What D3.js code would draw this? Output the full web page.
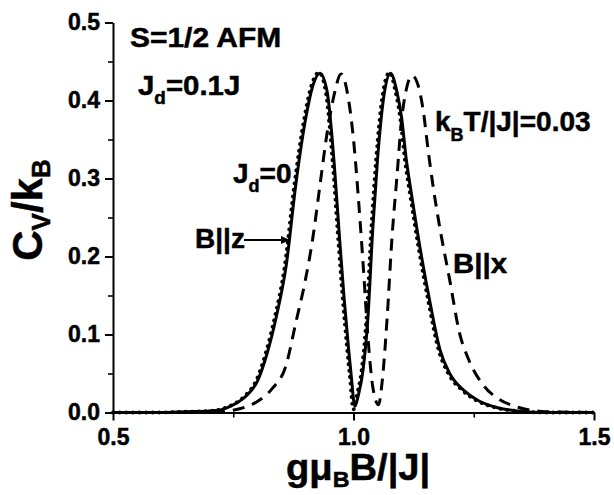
<!DOCTYPE html>
<html>
<head>
<meta charset="utf-8">
<script src="https://cdn.jsdelivr.net/npm/d3@7"></script>
<style>
  html, body { margin: 0; padding: 0; background: #fff; }
  svg { display: block; }
  text { font-family: "Liberation Sans", Arial, sans-serif; font-weight: bold; fill: #000; stroke: #000; stroke-width: 0.5px; }
</style>
</head>
<body>
<svg id="chart" width="614" height="495"></svg>
<script>
// ---- data ----
const xTicks = [0.5, 1.0, 1.5];
const xMinorTicks = [0.75, 1.25];
const yTicks = [0.0, 0.1, 0.2, 0.3, 0.4, 0.5];
const yMinorTicks = [0.05, 0.15, 0.25, 0.35, 0.45];

// Jd = 0.1J, B || z (solid)
const solidX = [0.50,0.60,0.65,0.70,0.72,0.74,0.76,0.78,0.80,0.82,0.84,0.86,0.88,0.90,0.915,0.93,0.945,0.96,0.97,0.98,0.99,0.995,1.003,1.01,1.02,1.03,1.04,1.05,1.063,1.077,1.09,1.10,1.11,1.12,1.14,1.16,1.18,1.20,1.23,1.26,1.30,1.34,1.40,1.50];
const solidY = [0,0.000,0.001,0.002,0.003,0.007,0.013,0.023,0.040,0.075,0.124,0.188,0.292,0.375,0.418,0.435,0.412,0.318,0.232,0.150,0.080,0.049,0.008,0.022,0.055,0.122,0.235,0.325,0.405,0.435,0.412,0.378,0.323,0.282,0.205,0.138,0.080,0.050,0.028,0.015,0.006,0.002,0.000,0];

// Jd = 0 (dotted)
const dotX = [0.50,0.60,0.65,0.70,0.717,0.737,0.757,0.777,0.797,0.817,0.837,0.857,0.877,0.897,0.912,0.928,0.942,0.957,0.967,0.977,0.987,0.992,1.000,1.007,1.017,1.027,1.037,1.047,1.060,1.075,1.087,1.097,1.107,1.117,1.137,1.157,1.177,1.197,1.227,1.257,1.297,1.337,1.40,1.50];
const dotY = [0,0.000,0.001,0.002,0.003,0.007,0.013,0.023,0.040,0.075,0.124,0.188,0.292,0.375,0.418,0.436,0.412,0.318,0.232,0.150,0.080,0.049,0.004,0.022,0.055,0.122,0.235,0.325,0.405,0.436,0.412,0.378,0.323,0.282,0.205,0.138,0.080,0.050,0.028,0.015,0.006,0.002,0.000,0];

// Jd = 0.1J, B || x (dashed)
const dashX = [0.50,0.70,0.75,0.78,0.80,0.83,0.86,0.88,0.90,0.915,0.93,0.945,0.96,0.974,0.99,1.00,1.01,1.02,1.03,1.04,1.052,1.06,1.07,1.08,1.09,1.10,1.11,1.122,1.135,1.145,1.155,1.165,1.18,1.20,1.22,1.24,1.27,1.30,1.33,1.36,1.40,1.50];
const dashY = [0,0.000,0.003,0.008,0.014,0.030,0.061,0.115,0.170,0.222,0.290,0.358,0.408,0.434,0.400,0.350,0.276,0.190,0.097,0.033,0.010,0.042,0.122,0.224,0.300,0.375,0.415,0.432,0.418,0.387,0.337,0.292,0.235,0.170,0.103,0.067,0.035,0.018,0.009,0.004,0.001,0];

// ---- drawing ----
const svg = d3.select("#chart");
svg.append("rect").attr("width", 614).attr("height", 495).attr("fill", "#fff");

const x = d3.scaleLinear().domain([0.5, 1.5]).range([113, 594]);
const y = d3.scaleLinear().domain([0, 0.5]).range([412.5, 22.5]);

function styleAxis(g) {
  g.selectAll("path.domain").attr("stroke", "#000").attr("stroke-width", 2);
  g.selectAll(".tick line").attr("stroke", "#000").attr("stroke-width", 2);
  g.selectAll(".tick text").style("font-size", "23px").attr("fill", "#000").attr("font-family", null);
}

// minor ticks
svg.append("g").attr("transform", "translate(113,0)")
  .call(d3.axisLeft(y).tickValues(yMinorTicks).tickSize(5).tickSizeOuter(0).tickFormat(""))
  .call(g => { g.select("path.domain").remove(); g.selectAll(".tick line").attr("stroke", "#000").attr("stroke-width", 1.6); });
svg.append("g").attr("transform", "translate(0,412.5)")
  .call(d3.axisBottom(x).tickValues(xMinorTicks).tickSize(5).tickSizeOuter(0).tickFormat(""))
  .call(g => { g.select("path.domain").remove(); g.selectAll(".tick line").attr("stroke", "#000").attr("stroke-width", 1.6); });

// major axes
svg.append("g").attr("transform", "translate(113,0)")
  .call(d3.axisLeft(y).tickValues(yTicks).tickSize(8).tickSizeOuter(0).tickPadding(5).tickFormat(d3.format(".1f")))
  .call(styleAxis);
svg.append("g").attr("transform", "translate(0,412.5)")
  .call(d3.axisBottom(x).tickValues(xTicks).tickSize(8).tickSizeOuter(0).tickPadding(8).tickFormat(d3.format(".1f")))
  .call(styleAxis);

// curves
const line = d3.line().x(d => x(d[0])).y(d => y(d[1])).curve(d3.curveMonotoneX);
const solidData = solidX.map((v, i) => [v, solidY[i]]);
const dotData = dotX.map((v, i) => [v, dotY[i]]);
const dashData = dashX.map((v, i) => [v, dashY[i]]);

svg.append("path").datum(dashData).attr("d", line)
  .attr("fill", "none").attr("stroke", "#000").attr("stroke-width", 3)
  .attr("stroke-dasharray", "12,8");
svg.append("path").datum(solidData).attr("d", line)
  .attr("fill", "none").attr("stroke", "#000").attr("stroke-width", 3);
svg.append("path").datum(dotData).attr("d", line)
  .attr("fill", "none").attr("stroke", "#000").attr("stroke-width", 3.8)
  .attr("stroke-linecap", "round").attr("stroke-dasharray", "0.1,6.5");

// annotations
function label(px, py, parts, size, sx) {
  const t = svg.append("text")
    .attr("transform", `translate(${px},${py}) scale(${sx || 1},1)`)
    .style("font-size", size + "px");
  parts.forEach(p => {
    const s = t.append("tspan").text(p.t);
    if (p.sub) s.style("font-size", p.sub + "px").attr("dy", p.dy);
    else if (p.dy) s.attr("dy", p.dy);
  });
  return t;
}
label(130, 47, [{t: "S=1/2 AFM"}], 28, 1.07);
label(138, 95, [{t: "J"}, {t: "d", sub: 18, dy: 9}, {t: "=0.1J", dy: -9}], 28, 1.05);
label(435, 131, [{t: "k"}, {t: "B", sub: 18, dy: 10}, {t: "T/|J|=0.03", dy: -10}], 28, 1.0);
label(233, 183, [{t: "J"}, {t: "d", sub: 18, dy: 9}, {t: "=0", dy: -9}], 28, 1.0);
label(195, 248, [{t: "B||z"}], 28, 1.0);
label(453, 273, [{t: "B||x"}], 28, 1.05);

// arrow
svg.append("line").attr("x1", 244).attr("y1", 240).attr("x2", 283).attr("y2", 240)
  .attr("stroke", "#000").attr("stroke-width", 2);
svg.append("path").attr("d", "M290,240 L281,236 L281,244 Z").attr("fill", "#000");

// axis titles
label(286, 480, [{t: "gμ"}, {t: "B", sub: 22, dy: 7}, {t: "B/|J|", dy: -7}], 36, 1.06);
const yt = svg.append("text").attr("transform", "translate(42,210) rotate(-90)")
  .attr("text-anchor", "middle").style("font-size", "42px");
yt.append("tspan").text("C");
yt.append("tspan").text("V").style("font-size", "26px").attr("dy", 8);
yt.append("tspan").text("/k").attr("dy", -8);
yt.append("tspan").text("B").style("font-size", "26px").attr("dy", 8);
</script>
</body>
</html>
